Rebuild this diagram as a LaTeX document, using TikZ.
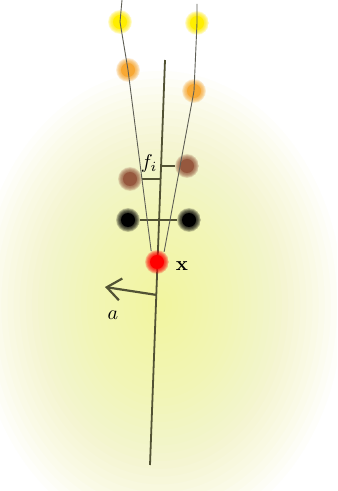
\documentclass[tikz,border=0pt]{standalone}
\usetikzlibrary{arrows.meta,calc}
\definecolor{glow}{RGB}{242,245,132}
\definecolor{ink}{RGB}{82,82,52}
\definecolor{thread}{RGB}{95,95,85}
\definecolor{dotyel}{RGB}{255,238,0}
\definecolor{dotorg}{RGB}{247,168,52}
\definecolor{dotbrn}{RGB}{150,88,62}

\begin{document}
\begin{tikzpicture}[
 x=0.5pt,y=-0.5pt,
 dot/.style={circle,minimum size=12pt,inner sep=0pt,
 path picture={
 \foreach \r in {6.0,5.7,5.4,5.1,4.8,4.5,4.2,3.9,3.6}
 \fill[#1,opacity=0.16] (path picture bounding box.center) circle (\r pt);
 \fill[#1] (path picture bounding box.center) circle (3.5pt);}},
 strand/.style={draw=thread,line width=0.45pt},
 spine/.style={draw=ink,line width=0.9pt},
 rung/.style={draw=ink,line width=0.7pt},
 avec/.style={-{Straight Barb[length=7pt,width=11pt]},draw=ink,line width=1.1pt}]
\useasboundingbox (0,0) rectangle (337,491);
\clip (0,0) rectangle (337,491);
\fill[white] (0,0) rectangle (337,491);
\coordinate (gc) at (160,305);
\foreach \k in {1,...,30}
 \fill[glow,opacity=0.04] (gc) ellipse ({6.1*\k} and {7.8*\k});
\node[dot=dotyel] (yl) at (120,22) {};
\node[dot=dotyel] (yr) at (197,23) {};
\node[dot=dotorg] (ol) at (128,70) {};
\node[dot=dotorg] (or) at (194,91) {};
\node[dot=dotbrn] (bl) at (130,179) {};
\node[dot=dotbrn] (br) at (187,166) {};
\node[dot=black] (kl) at (128,220) {};
\node[dot=black] (kr) at (189,220) {};
\coordinate (lt) at (122,0);
\coordinate (rt) at (197,4);
\coordinate (st) at (165,60);
\coordinate (sb) at (150,465);
\coordinate (s1) at ($(st)!0.3!(sb)$);
\coordinate (s2) at ($(st)!0.26!(sb)$);
\coordinate (sa) at ($(st)!0.58!(sb)$);
\coordinate (atip) at (105,287);
\draw[spine] (st) -- (sb);
\draw[rung] (bl.east) -- (bl.east -| s1);
\draw[rung] (br.west) -- (br.west -| s2);
\draw[rung] (kl.east) -- (kr.west);
\draw[avec] (sa) -- (atip);
\node[dot=red] (x) at (157,262) {};
\draw[strand] (lt) -- (yl.center) -- (ol.center) -- (x.118);
\draw[strand] (rt) -- (yr.center) -- (or.center) -- (x.55);
\node (fi) at (149,164) {$f_i$};
\node (xlab) at (182,266) {$\mathbf{x}$};
\node (alab) at (113,315) {$a$};
\end{tikzpicture}
\end{document}
